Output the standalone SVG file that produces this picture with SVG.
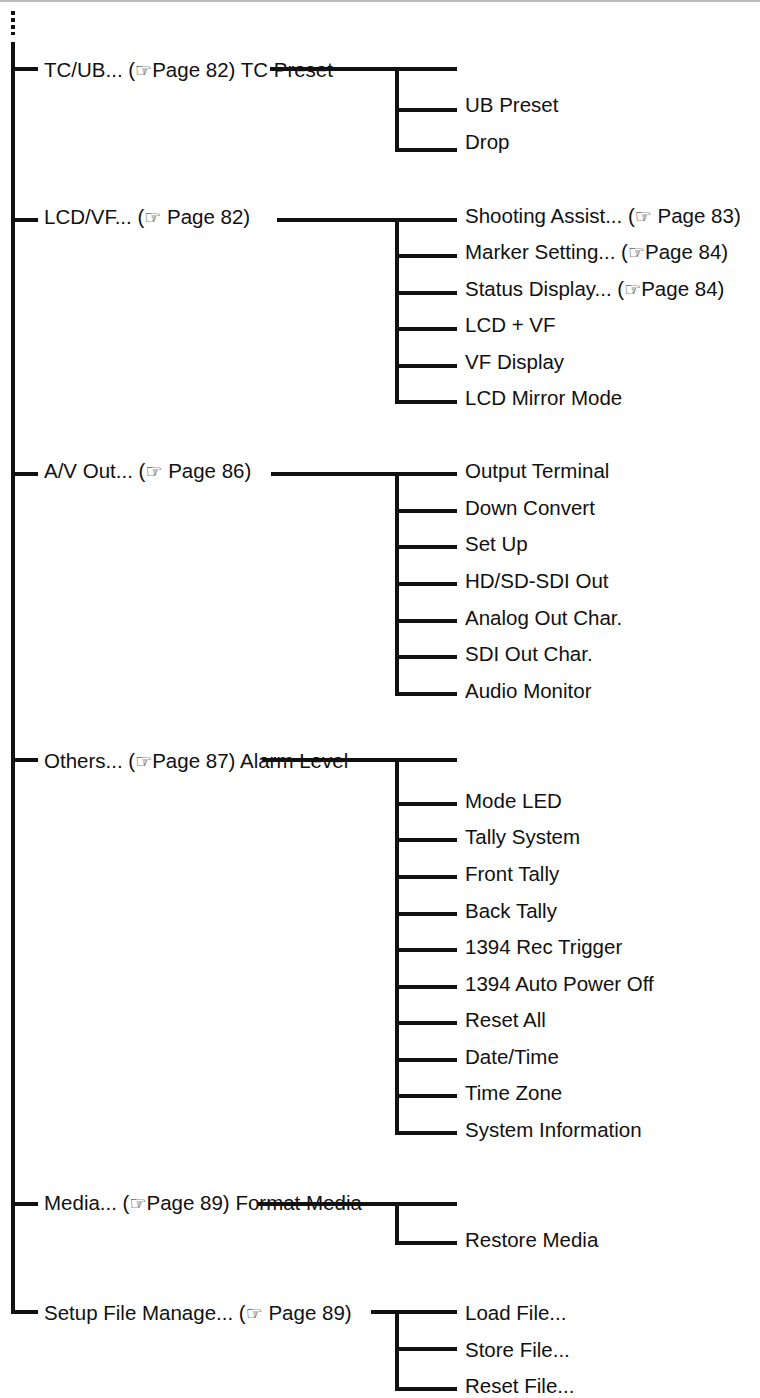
<svg xmlns="http://www.w3.org/2000/svg" width="760" height="1398" viewBox="0 0 760 1398">
<style>
text{font-family:"Liberation Sans",Arial,"DejaVu Sans",sans-serif;font-size:20.5px;fill:#111}
.h{font-family:"DejaVu Sans",sans-serif;font-size:19px}
line{stroke:#111;stroke-width:4}
</style>
<rect width="760" height="1398" fill="#fff"/>
<line x1="0" y1="1" x2="760" y2="1" style="stroke:#bbb;stroke-width:2"/>
<g id="connectors">
<line x1="13" y1="11" x2="13" y2="35" style="stroke-dasharray:4,3"/>
<line x1="13" y1="42" x2="13" y2="1314"/>
<line x1="11" y1="69" x2="38" y2="69"/><line x1="11" y1="220" x2="38" y2="220"/><line x1="11" y1="474" x2="38" y2="474"/><line x1="11" y1="760" x2="38" y2="760"/><line x1="11" y1="1204" x2="38" y2="1204"/><line x1="11" y1="1312" x2="38" y2="1312"/>
<line x1="270" y1="69" x2="457" y2="69"/><line x1="397" y1="69" x2="397" y2="152"/><line x1="397" y1="110" x2="457" y2="110"/><line x1="395" y1="150" x2="457" y2="150"/>
<line x1="277" y1="220" x2="457" y2="220"/><line x1="397" y1="220" x2="397" y2="404"/>
<line x1="397" y1="256" x2="457" y2="256"/><line x1="397" y1="293" x2="457" y2="293"/><line x1="397" y1="329" x2="457" y2="329"/><line x1="397" y1="366" x2="457" y2="366"/><line x1="395" y1="402" x2="457" y2="402"/>
<line x1="271" y1="474" x2="457" y2="474"/><line x1="397" y1="474" x2="397" y2="696"/>
<line x1="397" y1="511" x2="457" y2="511"/><line x1="397" y1="547" x2="457" y2="547"/><line x1="397" y1="584" x2="457" y2="584"/><line x1="397" y1="621" x2="457" y2="621"/><line x1="397" y1="657" x2="457" y2="657"/><line x1="395" y1="694" x2="457" y2="694"/>
<line x1="262" y1="760" x2="457" y2="760"/><line x1="397" y1="760" x2="397" y2="1135"/>
<line x1="397" y1="804" x2="457" y2="804"/><line x1="397" y1="840" x2="457" y2="840"/><line x1="397" y1="877" x2="457" y2="877"/><line x1="397" y1="914" x2="457" y2="914"/><line x1="397" y1="950" x2="457" y2="950"/><line x1="397" y1="987" x2="457" y2="987"/><line x1="397" y1="1023" x2="457" y2="1023"/><line x1="397" y1="1060" x2="457" y2="1060"/><line x1="397" y1="1096" x2="457" y2="1096"/><line x1="395" y1="1133" x2="457" y2="1133"/>
<line x1="258" y1="1204" x2="457" y2="1204"/><line x1="397" y1="1204" x2="397" y2="1245"/><line x1="395" y1="1243" x2="457" y2="1243"/>
<line x1="371" y1="1312" x2="457" y2="1312"/><line x1="397" y1="1312" x2="397" y2="1391"/>
<line x1="397" y1="1349" x2="457" y2="1349"/><line x1="395" y1="1389" x2="457" y2="1389"/>
</g>
<g id="tcub"><text x="44" y="77">TC/UB... (<tspan class="h">☞</tspan>Page 82) TC Preset</text></g>
<g id="tcsub"><text x="465" y="112">UB Preset</text><text x="465" y="149">Drop</text></g>
<g id="lcdvf"><text x="44" y="224">LCD/VF... (<tspan class="h">☞</tspan> Page 82)</text></g>
<g id="lcdsub"><text x="465" y="223">Shooting Assist... (<tspan class="h">☞</tspan> Page 83)</text><text x="465" y="259">Marker Setting... (<tspan class="h">☞</tspan>Page 84)</text><text x="465" y="296">Status Display... (<tspan class="h">☞</tspan>Page 84)</text><text x="465" y="332">LCD + VF</text><text x="465" y="369">VF Display</text><text x="465" y="405">LCD Mirror Mode</text></g>
<g id="av"><text x="44" y="478">A/V Out... (<tspan class="h">☞</tspan> Page 86)</text></g>
<g id="avsub"><text x="465" y="478">Output Terminal</text><text x="465" y="515">Down Convert</text><text x="465" y="551">Set Up</text><text x="465" y="588">HD/SD-SDI Out</text><text x="465" y="625">Analog Out Char.</text><text x="465" y="661">SDI Out Char.</text><text x="465" y="698">Audio Monitor</text></g>
<g id="others"><text x="44" y="768">Others... (<tspan class="h">☞</tspan>Page 87) Alarm Level</text></g>
<g id="othsub"><text x="465" y="808">Mode LED</text><text x="465" y="844">Tally System</text><text x="465" y="881">Front Tally</text><text x="465" y="918">Back Tally</text><text x="465" y="954">1394 Rec Trigger</text><text x="465" y="991">1394 Auto Power Off</text><text x="465" y="1027">Reset All</text><text x="465" y="1064">Date/Time</text><text x="465" y="1100">Time Zone</text><text x="465" y="1137">System Information</text></g>
<g id="media"><text x="44" y="1210">Media... (<tspan class="h">☞</tspan>Page 89) Format Media</text></g>
<g id="mediasub"><text x="465" y="1247">Restore Media</text></g>
<g id="setup"><text x="44" y="1320">Setup File Manage... (<tspan class="h">☞</tspan> Page 89)</text></g>
<g id="setupsub"><text x="465" y="1320">Load File...</text><text x="465" y="1357">Store File...</text><text x="465" y="1393">Reset File...</text></g>
</svg>
